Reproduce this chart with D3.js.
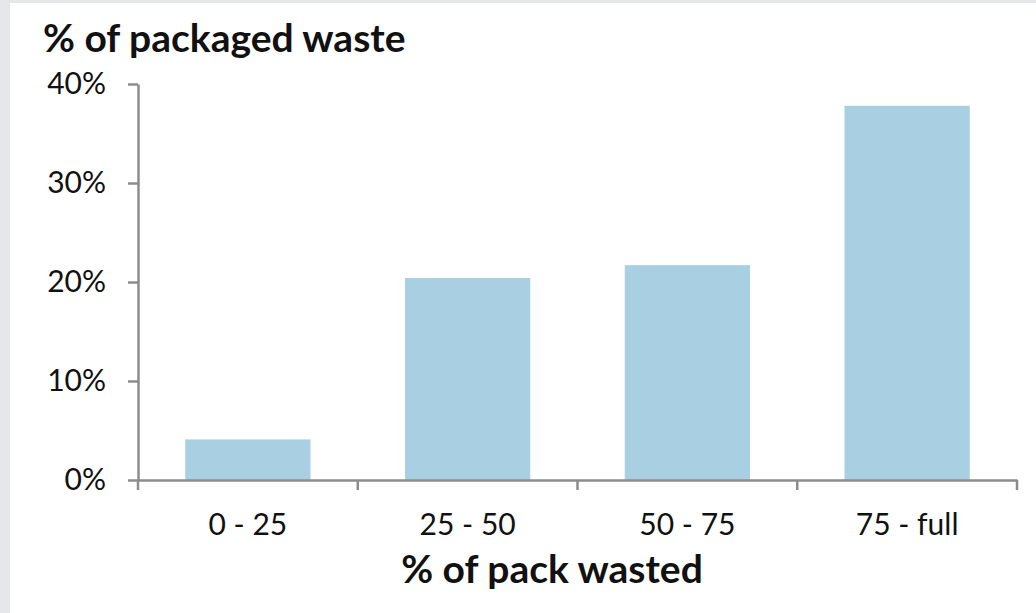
<!DOCTYPE html>
<html>
<head>
<meta charset="utf-8">
<script src="https://cdn.jsdelivr.net/npm/d3@7"></script>
<style>
  html, body { margin: 0; padding: 0; background: #e6e7eb; }
  svg { display: block; }
</style>
</head>
<body>
<svg id="chart" width="1036" height="613"></svg>
<script>
// Share of packaged food waste by how much of the pack was thrown away
const categories = ["0 - 25", "25 - 50", "50 - 75", "75 - full"];
const values = [4.1, 20.4, 21.7, 37.8];
const yTicks = [0, 10, 20, 30, 40];
const yTitle = "% of packaged waste";
const xTitle = "% of pack wasted";

const W = 1036, H = 613;
const margin = { left: 138, right: 19, top: 84, bottom: 133 };
const font = "Lato, 'Open Sans', sans-serif";
const axisColor = "#8c8c8c";

const svg = d3.select("#chart");

// panel background
svg.append("rect")
  .attr("x", 10).attr("y", 3)
  .attr("width", W - 10).attr("height", H - 3)
  .attr("fill", "#ffffff");

const x = d3.scaleBand()
  .domain(categories)
  .range([margin.left, W - margin.right])
  .paddingInner(0.43)
  .paddingOuter(0.215);

const y = d3.scaleLinear()
  .domain([0, 40])
  .range([H - margin.bottom, margin.top]);

// bars
svg.append("g").selectAll("rect")
  .data(values)
  .join("rect")
  .attr("x", (d, i) => x(categories[i]))
  .attr("y", d => y(d))
  .attr("width", x.bandwidth())
  .attr("height", d => y(0) - y(d))
  .attr("fill", "#a9cfe2");

// y axis
const yAxis = svg.append("g")
  .attr("transform", `translate(${margin.left},0)`)
  .call(d3.axisLeft(y).tickValues(yTicks).tickFormat(d => d + "%")
    .tickSize(10).tickPadding(22).tickSizeOuter(0));

// x axis with boundary ticks between categories
const xAxis = svg.append("g")
  .attr("transform", `translate(0,${y(0)})`)
  .call(d3.axisBottom(x).tickSize(0).tickPadding(34).tickSizeOuter(0));

const step = x.step();
const bounds = d3.range(categories.length + 1).map(i => margin.left + i * step);
xAxis.selectAll(".bound")
  .data(bounds)
  .join("line")
  .attr("class", "bound")
  .attr("x1", d => d).attr("x2", d => d)
  .attr("y1", 0).attr("y2", 10)
  .attr("stroke", axisColor).attr("stroke-width", 2.5);

[yAxis, xAxis].forEach(g => {
  g.select(".domain").attr("stroke", axisColor).attr("stroke-width", 2.5);
  g.selectAll(".tick line").attr("stroke", axisColor).attr("stroke-width", 2.5);
  g.selectAll("text")
    .attr("font-family", font)
    .attr("font-size", 30)
    .attr("fill", "#111");
});
xAxis.selectAll(".tick text").attr("dy", "0.71em");

// titles
svg.append("text")
  .attr("x", 43).attr("y", 52)
  .attr("font-family", font)
  .attr("font-weight", "bold")
  .attr("font-size", 39)
  .attr("fill", "#111")
  .text(yTitle);

svg.append("text")
  .attr("x", 552).attr("y", 583)
  .attr("text-anchor", "middle")
  .attr("font-family", font)
  .attr("font-weight", "bold")
  .attr("font-size", 39)
  .attr("fill", "#111")
  .text(xTitle);
</script>
</body>
</html>
